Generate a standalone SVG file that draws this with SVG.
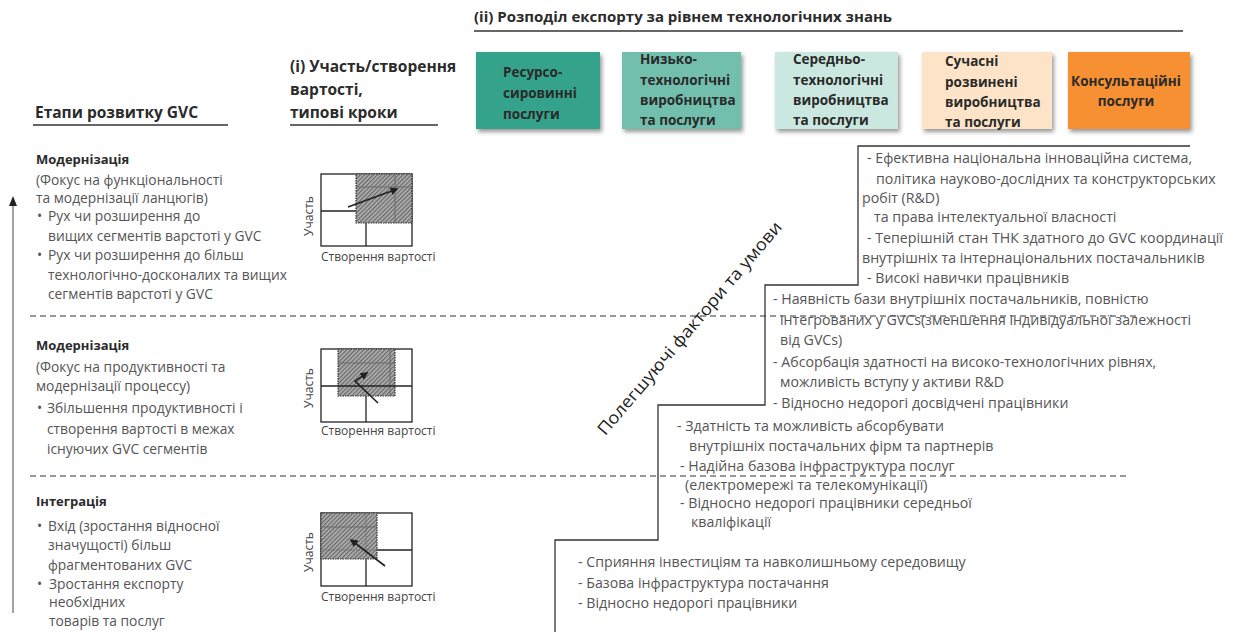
<svg xmlns="http://www.w3.org/2000/svg" width="1248" height="632" viewBox="0 0 1248 632">
<defs>
<style>
text{font-family:"Open Sans","Noto Sans","Liberation Sans",sans-serif;}
.h{font-size:13px;font-weight:bold;fill:#2b2b2b}
.ht{font-size:15px;font-weight:bold;fill:#2b2b2b}
.hc{font-size:15.5px;font-weight:bold;fill:#2b2b2b}
.b{font-size:13.8px;fill:#555}
.bx{font-size:13.5px;font-weight:bold;fill:#2a2a2a}
.cap{font-size:12px;fill:#444}
.r{font-size:14.2px;fill:#555}
.grid{fill:none;stroke:#222;stroke-width:1.3}
.shade{fill:url(#hatch);stroke:#333;stroke-width:1.2;stroke-dasharray:1.5 1}
.inner{stroke:#6a6a6a;stroke-width:1;fill:none}
.dash{stroke:#333;stroke-width:1.2;stroke-dasharray:6 4;fill:none}
.step{stroke:#333;stroke-width:1.3;fill:none}
.ul{stroke:#333;stroke-width:1.3}
.arr{stroke:#222;stroke-width:1.6;fill:none;marker-end:url(#ah)}
</style>
<pattern id="hatch" patternUnits="userSpaceOnUse" width="3" height="3" patternTransform="rotate(45)">
<rect width="3" height="3" fill="#a8a8a8"/>
<line x1="0" y1="0" x2="0" y2="3" stroke="#4a4a4a" stroke-width="1.4"/>
</pattern>
<marker id="ah" viewBox="0 0 10 10" refX="8" refY="5" markerWidth="5" markerHeight="5" orient="auto"><path d="M0,0 L10,5 L0,10 z" fill="#222"/></marker>
<filter id="sh" x="-10%" y="-10%" width="130%" height="140%"><feDropShadow dx="2" dy="3" stdDeviation="2" flood-color="#555" flood-opacity="0.6"/></filter>
</defs>
<rect width="1248" height="632" fill="#fff"/>

<g id="dividers">
<line class="dash" x1="30" y1="316" x2="1140" y2="316"/>
<line class="dash" x1="30" y1="476" x2="1130" y2="476"/>
</g>

<g id="progress-arrow">
<line x1="13" y1="613" x2="13" y2="204" stroke="#999" stroke-width="1.8"/>
<polygon points="13,196 9,206 17,206" fill="#222"/>
</g>

<g id="title-ii">
<text class="ht" x="474" y="22">(ii) Розподіл експорту за рівнем технологічних знань</text>
<line class="ul" x1="474" y1="31" x2="1183" y2="31"/>
</g>

<g id="box-resource">
<rect x="476" y="52" width="124" height="77" fill="#34a38c" filter="url(#sh)"/>
<text class="bx" x="503" y="77">Ресурсо-</text>
<text class="bx" x="503" y="98">сировинні</text>
<text class="bx" x="503" y="119">послуги</text>
</g>
<g id="box-lowtech">
<rect x="622" y="52" width="119" height="77" fill="#72bfae" filter="url(#sh)"/>
<text class="bx" x="640" y="64">Низько-</text>
<text class="bx" x="640" y="85">технологічні</text>
<text class="bx" x="640" y="105">виробництва</text>
<text class="bx" x="640" y="125">та послуги</text>
</g>
<g id="box-midtech">
<rect x="775" y="52" width="123" height="77" fill="#cbe8e0" filter="url(#sh)"/>
<text class="bx" x="793" y="64">Середньо-</text>
<text class="bx" x="793" y="85">технологічні</text>
<text class="bx" x="793" y="105">виробництва</text>
<text class="bx" x="793" y="125">та послуги</text>
</g>
<g id="box-advanced">
<rect x="922" y="52" width="130" height="77" fill="#fde4c9" filter="url(#sh)"/>
<text class="bx" x="945" y="66">Сучасні</text>
<text class="bx" x="945" y="87">розвинені</text>
<text class="bx" x="945" y="107">виробництва</text>
<text class="bx" x="945" y="127">та послуги</text>
</g>
<g id="box-consulting">
<rect x="1068" y="52" width="122" height="77" fill="#f69030" filter="url(#sh)"/>
<text class="bx" x="1126" y="86" text-anchor="middle">Консультаційні</text>
<text class="bx" x="1126" y="106" text-anchor="middle">послуги</text>
</g>

<g id="title-stages">
<text class="hc" x="35" y="118">Етапи розвитку GVC</text>
<line class="ul" x1="33" y1="125" x2="228" y2="125"/>
</g>
<g id="title-i">
<text class="hc" x="290" y="72">(i) Участь/створення</text>
<text class="hc" x="290" y="95">вартості,</text>
<text class="hc" x="290" y="118">типові кроки</text>
<line class="ul" x1="290" y1="125" x2="438" y2="125"/>
</g>

<g id="stage-functional">
<text class="h" x="36" y="164">Модернізація</text>
<text class="b" x="36" y="185">(Фокус на функціональності</text>
<text class="b" x="36" y="203">та модернізації ланцюгів)</text>
<text class="b" x="37" y="221">•</text><text class="b" x="48" y="221">Рух чи розширення до</text>
<text class="b" x="48" y="241">вищих сегментів варстоті у GVC</text>
<text class="b" x="37" y="260">•</text><text class="b" x="48" y="260">Рух чи розширення до більш</text>
<text class="b" x="48" y="280">технологічно-досконалих та вищих</text>
<text class="b" x="48" y="299">сегментів варстоті у GVC</text>
</g>
<g id="stage-process">
<text class="h" x="36" y="350">Модернізація</text>
<text class="b" x="36" y="372">(Фокус на продуктивності та</text>
<text class="b" x="36" y="391">модернізації процессу)</text>
<text class="b" x="37" y="413">•</text><text class="b" x="47" y="413">Збільшення продуктивності і</text>
<text class="b" x="47" y="434">створення вартості в межах</text>
<text class="b" x="47" y="454">існуючих GVC сегментів</text>
</g>
<g id="stage-integration">
<text class="h" x="36" y="506">Інтеграція</text>
<text class="b" x="37" y="531">•</text><text class="b" x="48" y="531">Вхід (зростання відносної</text>
<text class="b" x="48" y="550">значущості) більш</text>
<text class="b" x="48" y="570">фрагментованих GVC</text>
<text class="b" x="37" y="589">•</text><text class="b" x="49" y="589">Зростання експорту</text>
<text class="b" x="49" y="607">необхідних</text>
<text class="b" x="49" y="626">товарів та послуг</text>
</g>

<g id="diagram-functional">
<rect class="grid" x="321" y="174" width="91" height="72"/>
<line class="grid" x1="321" y1="211" x2="356" y2="211"/>
<line class="grid" x1="366" y1="223" x2="366" y2="246"/>
<rect class="shade" x="356" y="174" width="56" height="49"/>
<line class="inner" x1="356" y1="187" x2="412" y2="187"/>
<line class="inner" x1="395" y1="174" x2="395" y2="223"/>
<line class="arr" x1="348" y1="207" x2="397" y2="189"/>
<text class="cap" transform="translate(313,216) rotate(-90)" text-anchor="middle">Участь</text>
<text class="cap" x="321" y="261">Створення вартості</text>
</g>
<g id="diagram-process">
<rect class="grid" x="321" y="349" width="91" height="73"/>
<line class="grid" x1="321" y1="386" x2="412" y2="386"/>
<line class="grid" x1="366" y1="386" x2="366" y2="422"/>
<rect class="shade" x="338" y="349" width="57" height="47"/>
<line class="inner" x1="338" y1="363" x2="395" y2="363"/>
<line class="inner" x1="390" y1="349" x2="390" y2="396"/>
<line class="grid" x1="338" y1="386" x2="395" y2="386" stroke="#444"/>
<path class="arr" d="M378,403 L355,381 L367,373"/>
<text class="cap" transform="translate(313,388) rotate(-90)" text-anchor="middle">Участь</text>
<text class="cap" x="321" y="435">Створення вартості</text>
</g>
<g id="diagram-integration">
<rect class="grid" x="321" y="513" width="91" height="73"/>
<line class="grid" x1="321" y1="550" x2="412" y2="550"/>
<line class="grid" x1="366" y1="513" x2="366" y2="586"/>
<rect class="shade" x="321" y="513" width="56" height="46"/>
<line class="inner" x1="321" y1="527" x2="377" y2="527"/>
<line class="inner" x1="321" y1="550" x2="377" y2="550" stroke="#333" stroke-dasharray="1.5 1"/>
<line class="inner" x1="366" y1="513" x2="366" y2="559" stroke="#333" stroke-dasharray="1.5 1"/>
<line class="arr" x1="385" y1="566" x2="351" y2="540"/>
<text class="cap" transform="translate(313,552) rotate(-90)" text-anchor="middle">Участь</text>
<text class="cap" x="321" y="601">Створення вартості</text>
</g>

<g id="connectors">
<path class="step" d="M1190,146 H858 V285 H765 V405 H658 V540 H555 V632"/>
</g>

<g id="label-diagonal">
<text transform="translate(694,332) rotate(-49.6)" text-anchor="middle" font-size="17" fill="#222" textLength="274" lengthAdjust="spacingAndGlyphs">Полегшуючі фактори та умови</text>
</g>

<g id="factors-high">
<text class="r" x="867" y="163">- Ефективна національна інноваційна система,</text>
<text class="r" x="876" y="184">політика науково-дослідних та конструкторських</text>
<text class="r" x="862" y="203">робіт (R&amp;D)</text>
<text class="r" x="874" y="222">та права інтелектуальної власності</text>
<text class="r" x="867" y="243">- Теперішній стан ТНК здатного до GVC координації</text>
<text class="r" x="862" y="263">внутрішніх та інтернаціональних постачальників</text>
<text class="r" x="867" y="283">- Високі навички працівників</text>
</g>
<g id="factors-upper-mid">
<text class="r" x="773" y="304">- Наявність бази внутрішніх постачальників, повністю</text>
<text class="r" x="780" y="325">інтегрованих у GVCs(зменшення індивідуальної залежності</text>
<text class="r" x="780" y="345">від GVCs)</text>
<text class="r" x="773" y="367">- Абсорбація здатності на високо-технологічних рівнях,</text>
<text class="r" x="780" y="387">можливість вступу у активи R&amp;D</text>
<text class="r" x="773" y="408">- Відносно недорогі досвідчені працівники</text>
</g>
<g id="factors-lower-mid">
<text class="r" x="677" y="431">- Здатність та можливість абсорбувати</text>
<text class="r" x="689" y="451">внутрішніх постачальних фірм та партнерів</text>
<text class="r" x="680" y="471">- Надійна базова інфраструктура послуг</text>
<text class="r" x="685" y="490">(електромережі та телекомунікації)</text>
<text class="r" x="680" y="508">- Відносно недорогі працівники середньої</text>
<text class="r" x="691" y="527">кваліфікації</text>
</g>
<g id="factors-basic">
<text class="r" x="578" y="567">- Сприяння інвестиціям та навколишньому середовищу</text>
<text class="r" x="578" y="588">- Базова інфраструктура постачання</text>
<text class="r" x="578" y="608">- Відносно недорогі працівники</text>
</g>
</svg>
